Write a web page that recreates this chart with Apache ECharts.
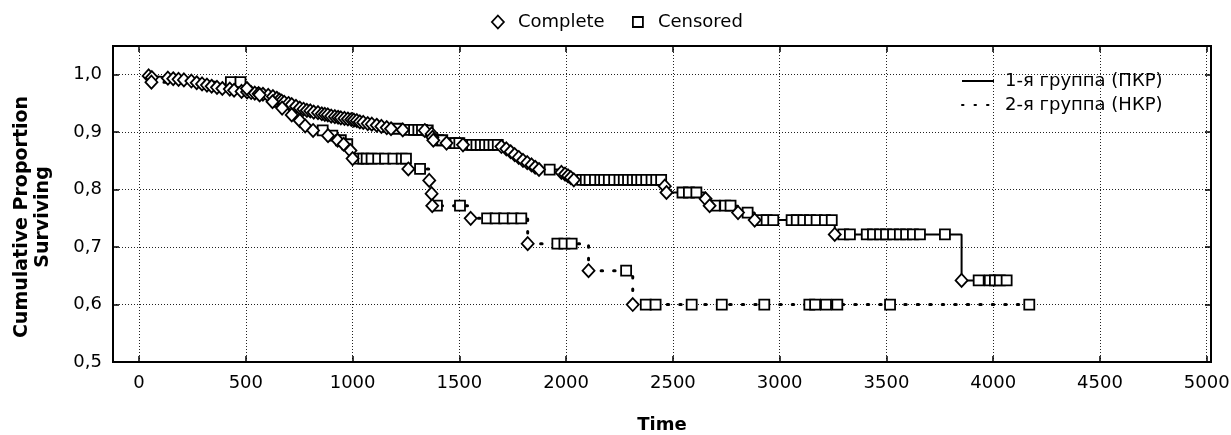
<!DOCTYPE html>
<html><head><meta charset="utf-8">
<script src="https://cdn.jsdelivr.net/npm/echarts@6/dist/echarts.min.js"></script>
<style>html,body{margin:0;padding:0;background:#fff}#c{width:1231px;height:435px}</style>
</head><body><div id="c"></div>
<script>
const xTicks = [0, 500, 1000, 1500, 2000, 2500, 3000, 3500, 4000, 4500, 5000];
const yTicks = [0.5, 0.6, 0.7, 0.8, 0.9, 1.0];
const groupNames = ['1-я группа (ПКР)', '2-я группа (НКР)'];
const markerNames = ['Complete', 'Censored'];

// group 1 (ПКР): events (Complete) and censored observations, [time, cumulative proportion surviving]
const g1Complete = [[45,0.998],[60,0.995],[135,0.994],[160,0.993],[185,0.992],[210,0.991],[245,0.989],[270,0.986],[295,0.984],[318,0.982],[340,0.980],[365,0.978],[390,0.976],[425,0.975],[445,0.973],[480,0.971],[506,0.970],[525,0.969],[542,0.968],[560,0.967],[580,0.966],[605,0.964],[627,0.962],[645,0.959],[657,0.956],[668,0.954],[680,0.952],[700,0.950],[715,0.948],[735,0.945],[753,0.942],[770,0.940],[786,0.938],[802,0.937],[818,0.935],[838,0.934],[856,0.932],[870,0.931],[884,0.930],[900,0.928],[917,0.927],[932,0.926],[945,0.925],[962,0.924],[978,0.923],[994,0.922],[1006,0.921],[1020,0.920],[1034,0.918],[1050,0.917],[1071,0.915],[1090,0.914],[1113,0.912],[1135,0.910],[1160,0.908],[1180,0.906],[1235,0.904],[1338,0.903],[1370,0.897],[1374,0.891],[1378,0.886],[1440,0.881],[1517,0.878],[1697,0.875],[1720,0.871],[1740,0.866],[1759,0.861],[1778,0.856],[1798,0.851],[1818,0.847],[1838,0.843],[1855,0.839],[1873,0.835],[1978,0.830],[1995,0.827],[2009,0.824],[2022,0.821],[2036,0.817],[2462,0.806],[2470,0.795],[2653,0.784],[2672,0.772],[2805,0.760],[2883,0.747],[3258,0.722],[3852,0.642]];
const g1Censored = [[1205,0.906],[1268,0.904],[1288,0.904],[1308,0.904],[1325,0.904],[1352,0.903],[1400,0.886],[1420,0.886],[1462,0.881],[1482,0.881],[1500,0.881],[1540,0.878],[1560,0.878],[1580,0.878],[1600,0.878],[1620,0.878],[1640,0.878],[1660,0.878],[1680,0.878],[1923,0.835],[2075,0.817],[2092,0.817],[2110,0.817],[2135,0.817],[2160,0.817],[2178,0.817],[2200,0.817],[2225,0.817],[2250,0.817],[2270,0.817],[2290,0.817],[2312,0.817],[2332,0.817],[2352,0.817],[2375,0.817],[2400,0.817],[2422,0.817],[2445,0.817],[2545,0.795],[2575,0.795],[2610,0.795],[2696,0.772],[2745,0.772],[2770,0.772],[2850,0.760],[2916,0.747],[2939,0.747],[2970,0.747],[3056,0.747],[3080,0.747],[3111,0.747],[3142,0.747],[3173,0.747],[3212,0.747],[3244,0.747],[3298,0.722],[3329,0.722],[3408,0.722],[3437,0.722],[3470,0.722],[3498,0.722],[3531,0.722],[3563,0.722],[3592,0.722],[3624,0.722],[3657,0.722],[3774,0.722],[3932,0.642],[3984,0.642],[4008,0.642],[4031,0.642],[4063,0.642]];

// group 2 (НКР)
const g2Complete = [[58,0.987],[505,0.976],[565,0.965],[625,0.953],[670,0.942],[715,0.930],[753,0.920],[778,0.911],[815,0.903],[885,0.894],[930,0.886],[958,0.879],[990,0.868],[1000,0.854],[1261,0.836],[1359,0.816],[1370,0.793],[1373,0.772],[1553,0.750],[1820,0.706],[2105,0.659],[2312,0.600]];
const g2Censored = [[430,0.987],[475,0.987],[645,0.953],[860,0.903],[905,0.894],[945,0.886],[975,0.879],[1026,0.854],[1050,0.854],[1066,0.854],[1089,0.854],[1120,0.854],[1152,0.854],[1191,0.854],[1230,0.854],[1250,0.854],[1316,0.836],[1395,0.772],[1503,0.772],[1630,0.750],[1670,0.750],[1710,0.750],[1750,0.750],[1790,0.750],[1959,0.706],[1992,0.706],[2026,0.706],[2281,0.659],[2373,0.600],[2419,0.600],[2588,0.600],[2729,0.600],[2928,0.600],[3139,0.600],[3166,0.600],[3217,0.600],[3270,0.600],[3517,0.600],[4169,0.600]];

const FONT = 'DejaVu Sans';
function curve(a, b) {
  return a.concat(b).sort((p, q) => p[0] - q[0] || q[1] - p[1]);
}
const markerStyle = { color: '#fff', borderColor: '#000', borderWidth: 1.8, opacity: 1 };
const gridLine = { show: true, lineStyle: { color: '#222', width: 1, type: [1, 2] } };
const fmtY = v => v.toFixed(1).replace('.', ',');
const fmtX = v => String(Math.round(v));

const chart = echarts.init(document.getElementById('c'), null, { renderer: 'canvas' });
chart.setOption({
  animation: false,
  backgroundColor: '#fff',
  textStyle: { fontFamily: FONT },
  grid: { left: 113, right: 20, top: 46, bottom: 73, containLabel: false, outerBoundsMode: 'none',
    show: true, borderColor: '#000', borderWidth: 2, backgroundColor: 'transparent' },
  legend: [
    { data: [{ name: markerNames[0], icon: 'path://M6,0L12,6.5L6,13L0,6.5Z' }], left: 486, top: 8, itemWidth: 30, itemHeight: 13,
      selectedMode: false, itemStyle: markerStyle, textStyle: { fontFamily: FONT, fontSize: 18, color: '#000' } },
    { data: [{ name: markerNames[1], icon: 'path://M0,0L10,0L10,10L0,10Z' }], left: 627, top: 8, itemWidth: 30, itemHeight: 10,
      selectedMode: false, itemStyle: markerStyle, textStyle: { fontFamily: FONT, fontSize: 18, color: '#000' } },
    { data: groupNames, orient: 'vertical', left: 956, top: 67, itemWidth: 32, itemHeight: 14, itemGap: 6,
      selectedMode: false, itemStyle: { color: 'rgba(0,0,0,0)', borderWidth: 0, opacity: 0 },
      textStyle: { fontFamily: FONT, fontSize: 18, color: '#000', padding: [0, 0, 0, 6] } }
  ],
  xAxis: [
    { type: 'value', min: -122, max: 5020, position: 'bottom',
      axisLine: { show: true, onZero: false, lineStyle: { color: '#000', width: 2 } },
      axisTick: { show: true, inside: true, length: 6, customValues: xTicks, lineStyle: { color: '#000', width: 1.5 } },
      axisLabel: { customValues: xTicks, margin: 12, color: '#000', fontFamily: FONT, fontSize: 18, formatter: fmtX },
      splitLine: gridLine,
      name: 'Time', nameLocation: 'middle', nameGap: 54,
      nameTextStyle: { fontFamily: FONT, fontWeight: 'bold', fontSize: 18, color: '#000' } },
    { type: 'value', min: -122, max: 5020, position: 'top',
      axisLine: { show: true, onZero: false, lineStyle: { color: '#000', width: 2 } },
      axisTick: { show: true, inside: true, length: 6, customValues: xTicks, lineStyle: { color: '#000', width: 1.5 } },
      axisLabel: { show: false }, splitLine: { show: false } }
  ],
  yAxis: [
    { type: 'value', min: 0.5, max: 1.05, interval: 0.1, position: 'left',
      axisLine: { show: true, onZero: false, lineStyle: { color: '#000', width: 2 } },
      axisTick: { show: true, inside: true, length: 6, customValues: yTicks, lineStyle: { color: '#000', width: 1.5 } },
      axisLabel: { customValues: yTicks, margin: 11, color: '#000', fontFamily: FONT, fontSize: 18, formatter: fmtY },
      splitLine: gridLine },
    { type: 'value', min: 0.5, max: 1.05, interval: 0.1, position: 'right',
      axisLine: { show: true, onZero: false, lineStyle: { color: '#000', width: 2 } },
      axisTick: { show: true, inside: true, length: 6, customValues: yTicks, lineStyle: { color: '#000', width: 1.5 } },
      axisLabel: { show: false }, splitLine: { show: false } }
  ],
  graphic: [
    { type: 'text', x: 33, y: 217, rotation: Math.PI / 2, z: 10,
      style: { text: 'Cumulative Proportion\nSurviving', align: 'center', verticalAlign: 'middle',
        font: 'bold 19px "DejaVu Sans"', lineHeight: 21, fill: '#000' } }
  ],
  series: [
    { name: groupNames[0], type: 'line', step: 'end', symbol: 'none', z: 2,
      data: curve(g1Complete, g1Censored),
      lineStyle: { color: '#000', width: 2 }, itemStyle: { color: '#000' } },
    { name: groupNames[1], type: 'line', step: 'end', symbol: 'none', z: 2,
      data: curve(g2Complete, g2Censored),
      lineStyle: { color: '#000', width: 3, type: [1.5, 11], cap: 'round' }, itemStyle: { color: '#000' } },
    { name: markerNames[1], type: 'scatter', symbol: 'rect', symbolSize: 10, z: 3,
      data: g1Censored.concat(g2Censored), itemStyle: markerStyle },
    { name: markerNames[0], type: 'scatter', symbol: 'diamond', symbolSize: [12, 13], z: 4,
      data: g1Complete.concat(g2Complete), itemStyle: markerStyle }
  ]
});
</script></body></html>
